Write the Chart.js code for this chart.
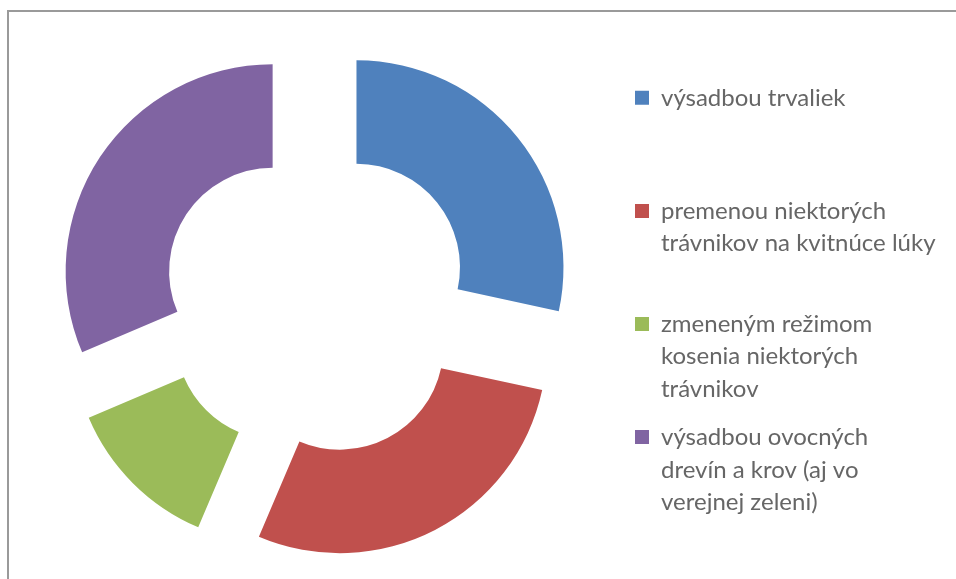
<!DOCTYPE html>
<html lang="sk">
<head>
<meta charset="utf-8">
<title>Doughnut</title>
<script src="https://cdn.jsdelivr.net/npm/chart.js@4/dist/chart.umd.min.js"></script>
<style>
    html, body { margin: 0; padding: 0; background: #fff; }
    #wrap { position: relative; width: 956px; height: 579px; overflow: hidden; }
    #frame {
        position: absolute; left: 7px; top: 10px; width: 960px; height: 580px;
        border-left: 2px solid #9a9a9a; border-top: 2px solid #9a9a9a;
        pointer-events: none;
    }
    #chart { position: absolute; left: 0; top: 0; }
</style>
</head>
<body>
<div id="wrap">
    <canvas id="chart" width="956" height="579"></canvas>
    <div id="frame"></div>
</div>
<script>
const labels = [
    ['výsadbou trvaliek', '', ''],
    ['premenou niektorých', 'trávnikov na kvitnúce lúky', ''],
    ['zmeneným režimom', 'kosenia niektorých', 'trávnikov'],
    ['výsadbou ovocných', 'drevín a krov (aj vo', 'verejnej zeleni)']
];
const values = [28.4, 28.0, 12.2, 31.4];
const colors = ['#4F81BD', '#C0504D', '#9BBB59', '#8064A2'];

const fontFamily = 'Lato';
const fontSize = 24;
const explode = 52;

// every slice pulled out from the centre along its middle angle
const explodePlugin = {
    id: 'explode',
    afterDatasetUpdate(chart, args) {
        args.meta.data.forEach(arc => {
            const mid = (arc.startAngle + arc.endAngle) / 2;
            arc.x += Math.cos(mid) * explode;
            arc.y += Math.sin(mid) * explode;
        });
    }
};

// legend width depends on the longest line, so measure it first
const mctx = document.createElement('canvas').getContext('2d');
mctx.font = fontSize + 'px ' + fontFamily;
const longest = Math.max(...labels.flat().map(s => mctx.measureText(s).width));
const legendPad = 15;
const boxSize = 14;
const legendWidth = legendPad + boxSize + fontSize / 2 + longest + 10;
const rightPad = Math.max(956 - 620 - legendWidth, 0);

const ctx = document.getElementById('chart').getContext('2d');
new Chart(ctx, {
    type: 'doughnut',
    data: {
        labels: labels,
        datasets: [{
            data: values,
            backgroundColor: colors,
            borderWidth: 0,
            radius: 207,
            cutout: '50%'
        }]
    },
    options: {
        responsive: false,
        animation: false,
        layout: {
            padding: { left: 12, top: 21, bottom: 0, right: rightPad }
        },
        plugins: {
            tooltip: { enabled: false },
            legend: {
                position: 'right',
                align: 'center',
                title: {
                    display: true,
                    text: '',
                    padding: 0,
                    font: { size: 9, lineHeight: 1 }
                },
                labels: {
                    boxWidth: boxSize,
                    boxHeight: boxSize,
                    padding: legendPad,
                    color: '#000',
                    font: { family: fontFamily, size: fontSize, lineHeight: 1.3625 },
                    generateLabels(chart) {
                        return labels.map((text, i) => ({
                            text: text,
                            fillStyle: colors[i],
                            strokeStyle: colors[i],
                            lineWidth: 0,
                            hidden: false,
                            index: i
                        }));
                    }
                }
            }
        }
    },
    plugins: [explodePlugin]
});
</script>
</body>
</html>
